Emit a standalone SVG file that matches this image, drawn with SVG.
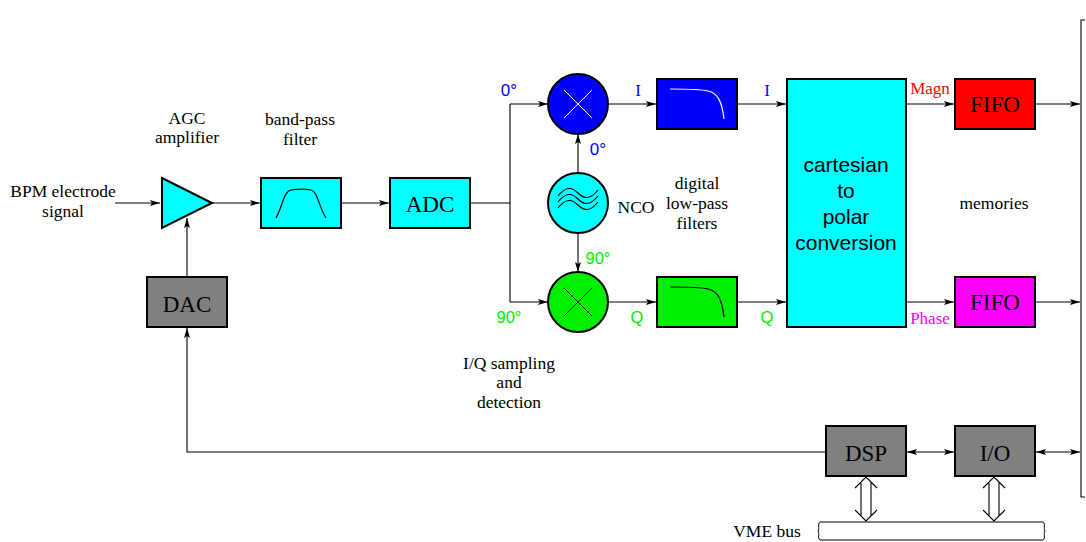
<svg xmlns="http://www.w3.org/2000/svg" width="1086" height="542" viewBox="0 0 1086 542">
<style>
.t{font-family:"Liberation Serif","Times New Roman",serif;text-anchor:middle}
.s{font-family:"Liberation Sans",Arial,sans-serif;text-anchor:middle}
.lbl{font-size:17.5px}
.big{font-size:23px}
.box{stroke:#000;stroke-width:2}
.c{fill:none;stroke:#000;stroke-width:1.1}
.arr{marker-end:url(#ah)}
.dbl{marker-start:url(#ah);marker-end:url(#ah)}
</style>
<defs>
<marker id="ah" viewBox="0 0 10 6" refX="10" refY="3" markerWidth="10" markerHeight="6" markerUnits="userSpaceOnUse" orient="auto-start-reverse">
<path d="M0,0 L10,3 L0,6 L2,3z" fill="#000"/>
</marker>
</defs>
<rect width="1086" height="542" fill="#fff"/>

<g id="connectors">
<path class="c arr" d="M115,203 H160"/>
<path class="c arr" d="M212,203 H260"/>
<path class="c arr" d="M341,203 H389"/>
<path class="c" d="M470,203 H510 M510,104 V302"/>
<path class="c arr" d="M510,104 H548"/>
<path class="c arr" d="M510,302 H548"/>
<path class="c arr" d="M608,104 H656"/>
<path class="c arr" d="M608,302 H656"/>
<path class="c arr" d="M578,173 V134"/>
<path class="c arr" d="M578,233 V272"/>
<path class="c arr" d="M737,104 H786"/>
<path class="c arr" d="M737,302 H786"/>
<path class="c arr" d="M906,104 H954"/>
<path class="c arr" d="M906,302 H954"/>
<path class="c arr" d="M1035,104 H1080"/>
<path class="c arr" d="M1035,302 H1080"/>
<path class="c dbl" d="M907,452 H954"/>
<path class="c dbl" d="M1036,452 H1080"/>
<path class="c arr" d="M826,452 H187 V328"/>
<path class="c arr" d="M187,277 V218"/>
<path class="c" d="M1085,20 H1081 V497 H1085"/>
<g id="bus-dsp">
<path class="c" d="M861,482 V516 M871,482 V516 M855,488 L866,477 L877,488 M855,510 L866,521 L877,510"/>
</g>
<g id="bus-io">
<path class="c" d="M989,482 V516 M999,482 V516 M983,488 L994,477 L1005,488 M983,510 L994,521 L1005,510"/>
</g>
</g>

<g id="input-label">
<text class="t lbl" x="63" y="197">BPM electrode</text>
<text class="t lbl" x="63" y="217">signal</text>
</g>

<g id="agc">
<polygon points="162,178 212,203 162,228" fill="#00ffff" class="box"/>
<text class="t lbl" x="187" y="124">AGC</text>
<text class="t lbl" x="187" y="143">amplifier</text>
</g>

<g id="bpf">
<rect x="261" y="178" width="80" height="50" fill="#00ffff" class="box"/>
<path d="M276,218 C283,205 284,191 291,190 C297,189 306,189 311,190 C318,192 318,205 326,218" fill="none" stroke="#000" stroke-width="1.2"/>
<text class="t lbl" x="300" y="125">band-pass</text>
<text class="t lbl" x="300" y="145">filter</text>
</g>

<g id="adc">
<rect x="390" y="178" width="80" height="50" fill="#00ffff" class="box"/>
<text class="t big" x="430" y="212">ADC</text>
</g>

<g id="mixer-i">
<circle cx="578" cy="104" r="30" fill="#0000ff" class="box"/>
<path d="M564,90 L592,118 M592,90 L564,118" stroke="#fff" stroke-width="1"/>
</g>

<g id="nco">
<circle cx="578" cy="203" r="30" fill="#00ffff" class="box"/>
<path d="M558,196 C566,186 572,187 578,193 C584,199 590,200 598,190 M558,202 C566,192 572,193 578,199 C584,205 590,206 598,196 M558,208 C566,198 572,199 578,205 C584,211 590,212 598,202" fill="none" stroke="#000" stroke-width="1.2"/>
<text class="t lbl" x="636" y="213">NCO</text>
</g>

<g id="mixer-q">
<circle cx="578" cy="302" r="30" fill="#00ee00" class="box"/>
<path d="M564,288 L592,316 M592,288 L564,316" stroke="#000" stroke-width="1"/>
</g>

<g id="phase-labels">
<text class="s" x="509" y="96" font-size="17" style="fill:#0000ff">0°</text>
<text class="s" x="598" y="155" font-size="17" style="fill:#0000ff">0°</text>
<text class="s" x="598" y="264" font-size="16.5" style="fill:#00ee00">90°</text>
<text class="s" x="509" y="323" font-size="16.5" style="fill:#00ee00">90°</text>
<text class="t" x="638" y="96" font-size="17" style="fill:#0000ff">I</text>
<text class="s" x="637" y="323" font-size="16.5" style="fill:#00ee00">Q</text>
<text class="t" x="767" y="96" font-size="17" style="fill:#0000ff">I</text>
<text class="s" x="767" y="323" font-size="16.5" style="fill:#00ee00">Q</text>
</g>

<g id="lpf-i">
<rect x="657" y="79" width="80" height="50" fill="#0000ff" class="box"/>
<path d="M670,89 C685,89 700,89 708,91 C718,93 722,102 724,119" fill="none" stroke="#fff" stroke-width="1.2"/>
</g>

<g id="lpf-q">
<rect x="657" y="277" width="80" height="50" fill="#00ee00" class="box"/>
<path d="M670,287 C685,287 700,287 708,289 C718,291 722,300 724,317" fill="none" stroke="#000" stroke-width="1.2"/>
</g>

<g id="lpf-label">
<text class="t lbl" x="697" y="189">digital</text>
<text class="t lbl" x="697" y="209">low-pass</text>
<text class="t lbl" x="697" y="229">filters</text>
</g>

<g id="iq-label">
<text class="t lbl" x="509" y="369">I/Q sampling</text>
<text class="t lbl" x="509" y="388">and</text>
<text class="t lbl" x="509" y="408">detection</text>
</g>

<g id="cart2polar">
<rect x="787" y="79" width="119" height="248" fill="#00ffff" class="box"/>
<text class="s" x="846" y="172" font-size="21">cartesian</text>
<text class="s" x="846" y="198" font-size="21">to</text>
<text class="s" x="846" y="224" font-size="21">polar</text>
<text class="s" x="846" y="250" font-size="21">conversion</text>
</g>

<g id="fifo-magn">
<rect x="955" y="79" width="80" height="50" fill="#ff0000" class="box"/>
<text class="t big" x="995" y="112">FIFO</text>
<text class="t" x="930" y="94" font-size="17" style="fill:#ff0000">Magn</text>
</g>

<g id="fifo-phase">
<rect x="955" y="277" width="80" height="50" fill="#ff00ff" class="box"/>
<text class="t big" x="995" y="310">FIFO</text>
<text class="t" x="930" y="324" font-size="17" style="fill:#ff00ff">Phase</text>
</g>

<g id="memories">
<text class="t lbl" x="994" y="209">memories</text>
</g>

<g id="dac">
<rect x="147" y="277" width="80" height="50" fill="#808080" class="box"/>
<text class="t big" x="187" y="312">DAC</text>
</g>

<g id="dsp">
<rect x="826" y="426" width="80" height="50" fill="#808080" class="box"/>
<text class="t big" x="866" y="461">DSP</text>
</g>

<g id="io">
<rect x="955" y="426" width="80" height="50" fill="#808080" class="box"/>
<text class="t big" x="995" y="461">I/O</text>
</g>

<g id="vme">
<path d="M820,522 H1043 M820,540 H1043" fill="none" stroke="#000" stroke-width="1"/>
<path d="M820,522 C817,524 820,528 818,531 C820,534 817,538 820,540 M1043,522 C1046,524 1043,528 1045,531 C1043,534 1046,538 1043,540" fill="none" stroke="#000" stroke-width="1"/>
<text class="t lbl" x="767" y="537">VME bus</text>
</g>
</svg>
